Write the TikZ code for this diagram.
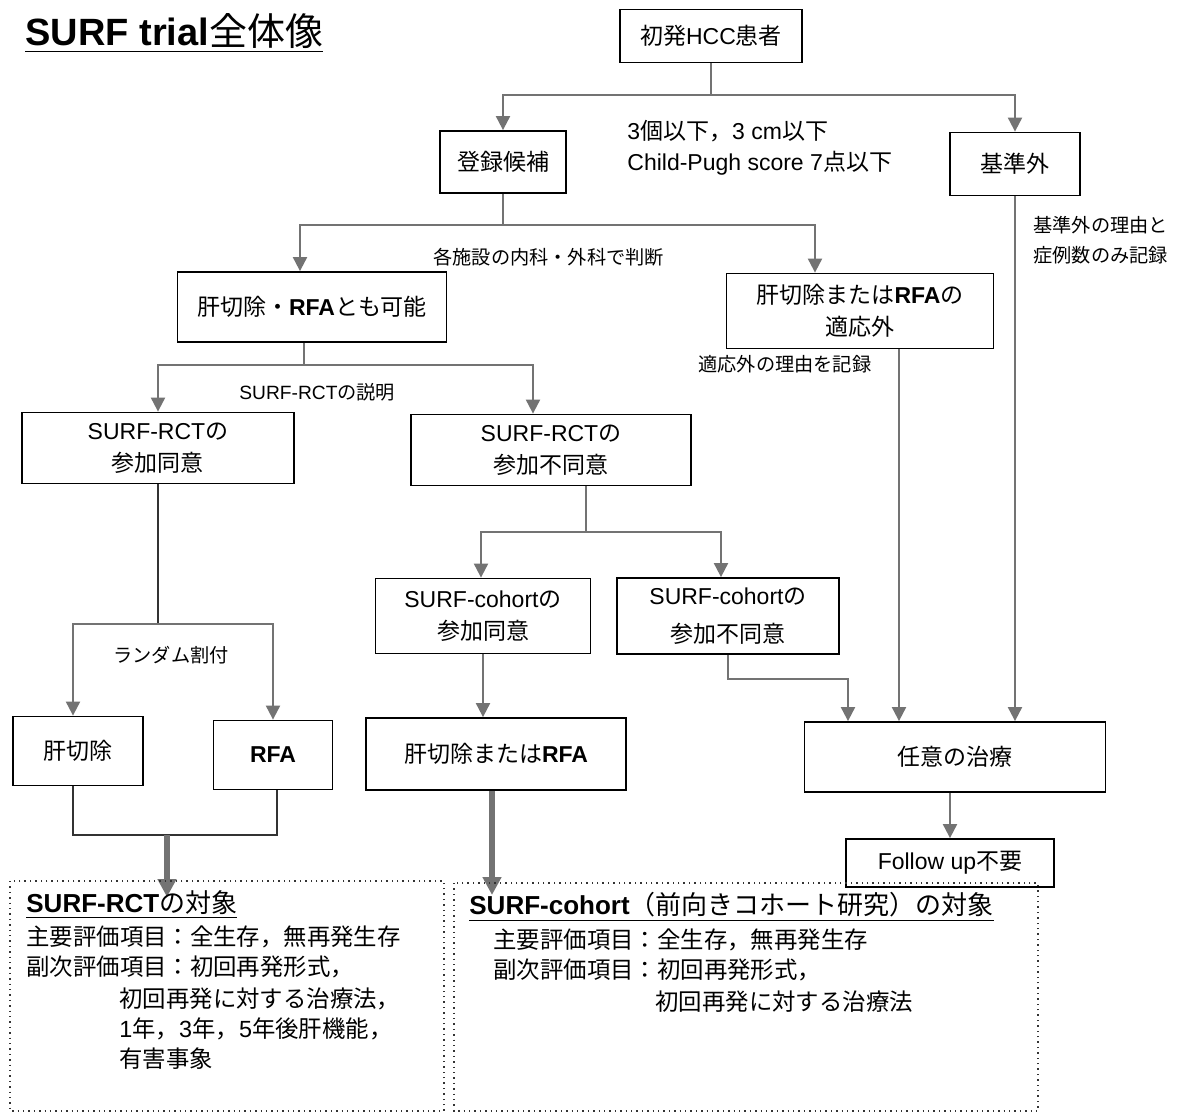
\documentclass[tikz,border=0pt]{standalone}
\usepackage{fontspec}
\setmainfont{Liberation Sans}
\newfontfamily\cjkfont{Noto Sans CJK JP}
\usetikzlibrary{arrows.meta}

% switch to the CJK font for runs of kana, kanji and full-width forms
\XeTeXinterchartokenstate=1
\chardef\cjkclass=7
\newcount\cjkcode
\newcommand\cjkrange[2]{\cjkcode=#1\relax
  \loop\XeTeXcharclass\cjkcode=\cjkclass
  \ifnum\cjkcode<#2\relax\advance\cjkcode by 1\repeat}
\cjkrange{"3000}{"30FF}
\cjkrange{"4E00}{"9FFF}
\cjkrange{"FF00}{"FFEF}
\XeTeXinterchartoks 0 \cjkclass={\begingroup\cjkfont}
\XeTeXinterchartoks 4095 \cjkclass={\begingroup\cjkfont}
\XeTeXinterchartoks \cjkclass 0={\endgroup}
\XeTeXinterchartoks \cjkclass 4095={\endgroup}

\begin{document}
\begin{tikzpicture}[x=0.5pt,y=-0.5pt,
    box/.style={draw,line width=0.9pt,align=center,inner sep=0pt,font=\fontsize{11.5}{16}\selectfont},
    lbl/.style={anchor=west,align=left,inner sep=0pt,font=\fontsize{9.6}{15}\selectfont},
    body/.style={anchor=west,inner sep=0pt,font=\fontsize{11.7}{14}\selectfont},
    head/.style={anchor=west,inner sep=0pt,font=\fontsize{13}{16}\selectfont},
    conn/.style={black!55,line width=1pt},
    arr/.style={conn,-{Triangle[width=7pt,length=7pt]}},
    link/.style={black!80,line width=0.6pt},
    bigarr/.style={black!55,line width=3pt,-{Triangle[width=9pt,length=9pt]}},
    frame/.style={black!80,line width=0.7pt,dotted}]
        \fill[white] (0,0) rectangle (1179,1113);
        \useasboundingbox (0,0) rectangle (1179,1113);

        \node[anchor=west,inner sep=0pt,font=\fontsize{19}{22}\selectfont] (title) at (25,33) {\underline{\textbf{SURF trial}全体像}};

        \node[box,minimum width=91pt,minimum height=26.5pt] (hcc) at (711,36) {初発HCC患者};
        \node[box,minimum width=63pt,minimum height=31pt] (reg) at (503,162) {登録候補};
        \node[box,minimum width=65pt,minimum height=31.5pt] (excl) at (1015,164) {基準外};
        \node[box,minimum width=134.5pt,minimum height=35pt] (both) at (312,307) {肝切除・\textbf{RFA}とも可能};
        \node[box,minimum width=133.5pt,minimum height=37.5pt] (unsuit) at (860,311) {肝切除または\textbf{RFA}の\\適応外};
        \node[box,minimum width=136pt,minimum height=35.5pt] (rctyes) at (158,448) {SURF-RCTの\\参加同意};
        \node[box,minimum width=140pt,minimum height=35.5pt] (rctno) at (551,450) {SURF-RCTの\\参加不同意};
        \node[box,minimum width=107.5pt,minimum height=37.5pt] (cohyes) at (483,616) {SURF-cohortの\\参加同意};
        \node[box,minimum width=111pt,minimum height=38pt] (cohno) at (728,616) {SURF-cohortの\\[3pt]参加不同意};
        \node[box,minimum width=65pt,minimum height=34.5pt] (hep) at (78,751) {肝切除};
        \node[box,minimum width=59.5pt,minimum height=34.5pt] (rfa) at (273,755) {\textbf{RFA}};
        \node[box,minimum width=130pt,minimum height=36pt] (either) at (496,754) {肝切除または\textbf{RFA}};
        \node[box,minimum width=150.5pt,minimum height=35pt] (free) at (955,757) {任意の治療};
        \node[box,minimum width=104pt,minimum height=24pt] (fu) at (950,863) {Follow up不要};

        \node[lbl,font=\fontsize{11.5}{15.5}\selectfont] (crit) at (627,148) {3個以下，3 cm以下\\Child-Pugh score 7点以下};
        \node[lbl] (excnote) at (1033,240) {基準外の理由と\\症例数のみ記録};
        \node[lbl] (judge) at (433,257) {各施設の内科・外科で判断};
        \node[lbl] (record) at (698,364) {適応外の理由を記録};
        \node[lbl] (explain) at (239,392) {SURF-RCTの説明};
        \node[lbl] (random) at (113,655) {ランダム割付};

        \coordinate (j1) at (711,95);
        \coordinate (j2) at (503,225);
        \coordinate (j3) at (304,365);
        \coordinate (j4) at (158,624);
        \coordinate (j5) at (586,532);
        \coordinate (j6) at (848,679);
        \coordinate (j7) at (167,835);
        \coordinate (u1) at ([xshift=19.5pt]unsuit.south);
        \coordinate (t1) at (167,897);
        \coordinate (t2) at (492,895);

        \draw[conn] (hcc.south) -- (j1);
        \draw[arr] (j1) -| (reg.north);
        \draw[arr] (j1) -| (excl.north);
        \draw[conn] (reg.south) -- (j2);
        \draw[arr] (j2) -| ([xshift=-6pt]both.north);
        \draw[arr] (j2) -| ([xshift=-22.5pt]unsuit.north);
        \draw[conn] (both.south -| j3) -- (j3);
        \draw[arr] (j3) -| (rctyes.north);
        \draw[arr] (j3) -| ([xshift=-9pt]rctno.north);
        \draw[link] (rctyes.south) -- (j4);
        \draw[arr] (j4) -| ([xshift=-2.5pt]hep.north);
        \draw[arr] (j4) -| (rfa.north);
        \draw[conn] (rctno.south -| j5) -- (j5);
        \draw[arr] (j5) -| ([xshift=-1pt]cohyes.north);
        \draw[arr] (j5) -| ([xshift=-3.5pt]cohno.north);
        \draw[arr] (cohyes.south) -- (cohyes.south |- either.north);
        \draw[arr] (cohno.south) |- (j6) -- (j6 |- free.north);
        \draw[arr] (u1) -- (u1 |- free.north);
        \draw[arr] (excl.south) -- (excl.south |- free.north);
        \draw[arr] (fu.north |- free.south) -- (fu.north);

        \draw[link] ([xshift=-2.5pt]hep.south) |- (j7) -| ([xshift=2pt]rfa.south);
        \draw[bigarr] (j7) -- (t1);
        \draw[bigarr] (either.south -| t2) -- (t2);

        \draw[frame] (10,881) rectangle (444,1111);
        \draw[frame] (454,883) rectangle (1038,1111);

        \node[head] (rcthead) at (26,905) {\underline{\textbf{SURF-RCT}の対象}};
        \node[body] (rctmain) at (26,937) {主要評価項目：全生存，無再発生存};
        \node[body] (rctsub) at (26,967) {副次評価項目：初回再発形式，};
        \node[body] (rctsuba) at (119,999) {初回再発に対する治療法，};
        \node[body] (rctsubb) at (119,1029) {1年，3年，5年後肝機能，};
        \node[body] (rctsubc) at (119,1059) {有害事象};

        \node[head] (cohhead) at (469,907) {\underline{\textbf{SURF-cohort}（前向きコホート研究）の対象}};
        \node[body] (cohmain) at (493,940) {主要評価項目：全生存，無再発生存};
        \node[body] (cohsub) at (493,970) {副次評価項目：初回再発形式，};
        \node[body] (cohsuba) at (655,1002) {初回再発に対する治療法};
\end{tikzpicture}
\end{document}
